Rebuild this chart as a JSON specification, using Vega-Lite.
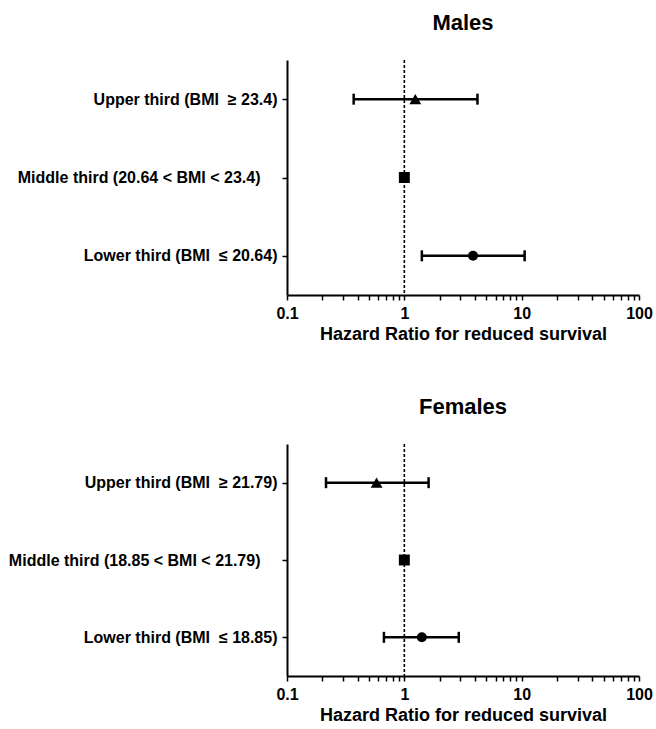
{
  "$schema": "https://vega.github.io/schema/vega-lite/v6.json",
  "background": "white",
  "padding": {"left": 8, "top": 12, "right": 0, "bottom": 0},
  "spacing": 53,
  "config": {
    "font": "Liberation Sans",
    "view": {"stroke": null},
    "axis": {
      "grid": false,
      "domainColor": "black",
      "domainWidth": 2,
      "tickColor": "black",
      "tickWidth": 1.5,
      "tickSize": 5,
      "labelColor": "black",
      "labelFont": "Liberation Sans",
      "labelFontWeight": "bold",
      "labelLimit": 0,
      "titleFont": "Liberation Sans",
      "titleFontWeight": "bold",
      "titleColor": "black"
    },
    "title": {"fontSize": 22, "fontWeight": "bold", "color": "black", "anchor": "middle", "offset": 24, "font": "Liberation Sans"}
  },
  "datasets": {
    "hr": [
      {"sex": "Males", "order": 1, "tertile": "Upper", "label": "Upper third (BMI\u00a0\u00a0\u2265 23.4)", "hr": 1.24, "lo": 0.37, "hi": 4.2},
      {"sex": "Males", "order": 2, "tertile": "Middle", "label": "Middle third (20.64 < BMI < 23.4)", "hr": 1, "lo": null, "hi": null},
      {"sex": "Males", "order": 3, "tertile": "Lower", "label": "Lower third (BMI\u00a0\u00a0\u2264 20.64)", "hr": 3.85, "lo": 1.41, "hi": 10.6},
      {"sex": "Females", "order": 1, "tertile": "Upper", "label": "Upper third (BMI\u00a0\u00a0\u2265 21.79)", "hr": 0.58, "lo": 0.215, "hi": 1.61},
      {"sex": "Females", "order": 2, "tertile": "Middle", "label": "Middle third (18.85 < BMI < 21.79)", "hr": 1, "lo": null, "hi": null},
      {"sex": "Females", "order": 3, "tertile": "Lower", "label": "Lower third (BMI\u00a0\u00a0\u2264 18.85)", "hr": 1.41, "lo": 0.67, "hi": 2.91}
    ]
  },
  "vconcat": [
    {
      "title": "Males",
      "width": 352,
      "height": 235,
      "layer": [
        {
          "data": {"name": "hr"},
          "transform": [{"filter": "datum.sex == 'Males'"}],
          "mark": {"type": "rule", "color": "black", "strokeWidth": 2.5},
          "encoding": {
            "x": {"field": "lo", "type": "quantitative",
              "scale": {"type": "log", "domain": [0.1, 100], "nice": false},
              "axis": {"title": "Hazard Ratio for reduced survival", "titleFontSize": 18, "titlePadding": 4, "labelFontSize": 16, "labelPadding": 5, "labelFlush": false, "labelOverlap": false, "format": "~g",
                "values": [0.1,0.2,0.3,0.4,0.5,0.6,0.7,0.8,0.9,1,2,3,4,5,6,7,8,9,10,20,30,40,50,60,70,80,90,100],
                "labelExpr": "datum.value == 0.1 || datum.value == 1 || datum.value == 10 || datum.value == 100 ? datum.label : ''"}},
            "x2": {"field": "hi"},
            "y": {"field": "label", "type": "nominal", "sort": {"field": "order", "op": "min"}, "scale": {"type": "point", "padding": 0.5},
              "axis": {"title": null, "labelFontSize": 16, "labelPadding": {"condition": {"test": "indexof(datum.label, 'Middle') >= 0", "value": 22}, "value": 5}}}
          }
        },
        {
          "data": {"values": [{}]},
          "mark": {"type": "rule", "color": "black", "strokeWidth": 1.6, "strokeDash": [3, 2]},
          "encoding": {"x": {"datum": 1, "type": "quantitative"}}
        },
        {
          "data": {"name": "hr"},
          "transform": [{"filter": "datum.sex == 'Males'"}],
          "mark": {"type": "tick", "orient": "vertical", "color": "black", "size": 11, "thickness": 2.5, "opacity": 1},
          "encoding": {
            "x": {"field": "lo", "type": "quantitative"},
            "y": {"field": "label", "type": "nominal", "sort": {"field": "order", "op": "min"}}
          }
        },
        {
          "data": {"name": "hr"},
          "transform": [{"filter": "datum.sex == 'Males'"}],
          "mark": {"type": "tick", "orient": "vertical", "color": "black", "size": 11, "thickness": 2.5, "opacity": 1},
          "encoding": {
            "x": {"field": "hi", "type": "quantitative"},
            "y": {"field": "label", "type": "nominal", "sort": {"field": "order", "op": "min"}}
          }
        },
        {
          "data": {"name": "hr"},
          "transform": [{"filter": "datum.sex == 'Males'"}],
          "mark": {"type": "point", "filled": true, "color": "black", "opacity": 1},
          "encoding": {
            "x": {"field": "hr", "type": "quantitative"},
            "y": {"field": "label", "type": "nominal", "sort": {"field": "order", "op": "min"}},
            "shape": {"field": "tertile", "type": "nominal", "scale": {"domain": ["Upper", "Middle", "Lower"], "range": ["triangle-up", "square", "circle"]}, "legend": null},
            "size": {"field": "tertile", "type": "nominal", "scale": {"domain": ["Upper", "Middle", "Lower"], "range": [140, 100, 95]}, "legend": null}
          }
        }
      ]
    },
    {
      "title": "Females",
      "width": 352,
      "height": 232,
      "layer": [
        {
          "data": {"name": "hr"},
          "transform": [{"filter": "datum.sex == 'Females'"}],
          "mark": {"type": "rule", "color": "black", "strokeWidth": 2.5},
          "encoding": {
            "x": {"field": "lo", "type": "quantitative",
              "scale": {"type": "log", "domain": [0.1, 100], "nice": false},
              "axis": {"title": "Hazard Ratio for reduced survival", "titleFontSize": 18, "titlePadding": 4, "labelFontSize": 16, "labelPadding": 5, "labelFlush": false, "labelOverlap": false, "format": "~g",
                "values": [0.1,0.2,0.3,0.4,0.5,0.6,0.7,0.8,0.9,1,2,3,4,5,6,7,8,9,10,20,30,40,50,60,70,80,90,100],
                "labelExpr": "datum.value == 0.1 || datum.value == 1 || datum.value == 10 || datum.value == 100 ? datum.label : ''"}},
            "x2": {"field": "hi"},
            "y": {"field": "label", "type": "nominal", "sort": {"field": "order", "op": "min"}, "scale": {"type": "point", "padding": 0.5},
              "axis": {"title": null, "labelFontSize": 16, "labelPadding": {"condition": {"test": "indexof(datum.label, 'Middle') >= 0", "value": 22}, "value": 5}}}
          }
        },
        {
          "data": {"values": [{}]},
          "mark": {"type": "rule", "color": "black", "strokeWidth": 1.6, "strokeDash": [3, 2]},
          "encoding": {"x": {"datum": 1, "type": "quantitative"}}
        },
        {
          "data": {"name": "hr"},
          "transform": [{"filter": "datum.sex == 'Females'"}],
          "mark": {"type": "tick", "orient": "vertical", "color": "black", "size": 11, "thickness": 2.5, "opacity": 1},
          "encoding": {
            "x": {"field": "lo", "type": "quantitative"},
            "y": {"field": "label", "type": "nominal", "sort": {"field": "order", "op": "min"}}
          }
        },
        {
          "data": {"name": "hr"},
          "transform": [{"filter": "datum.sex == 'Females'"}],
          "mark": {"type": "tick", "orient": "vertical", "color": "black", "size": 11, "thickness": 2.5, "opacity": 1},
          "encoding": {
            "x": {"field": "hi", "type": "quantitative"},
            "y": {"field": "label", "type": "nominal", "sort": {"field": "order", "op": "min"}}
          }
        },
        {
          "data": {"name": "hr"},
          "transform": [{"filter": "datum.sex == 'Females'"}],
          "mark": {"type": "point", "filled": true, "color": "black", "opacity": 1},
          "encoding": {
            "x": {"field": "hr", "type": "quantitative"},
            "y": {"field": "label", "type": "nominal", "sort": {"field": "order", "op": "min"}},
            "shape": {"field": "tertile", "type": "nominal", "scale": {"domain": ["Upper", "Middle", "Lower"], "range": ["triangle-up", "square", "circle"]}, "legend": null},
            "size": {"field": "tertile", "type": "nominal", "scale": {"domain": ["Upper", "Middle", "Lower"], "range": [140, 100, 95]}, "legend": null}
          }
        }
      ]
    }
  ]
}
